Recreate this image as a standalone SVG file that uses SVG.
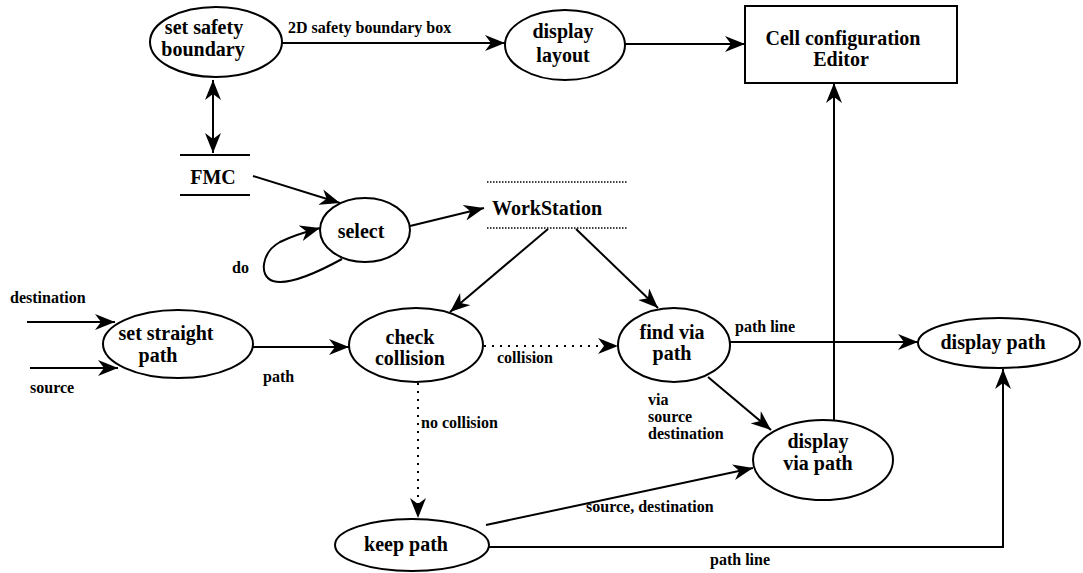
<svg xmlns="http://www.w3.org/2000/svg" width="1083" height="573" viewBox="0 0 1083 573">
  <style>
    .node { fill: #fff; stroke: #000; stroke-width: 2; }
    .t { font-family: "Liberation Serif", "Times New Roman", serif; font-weight: bold; font-size: 20px; fill: #000; text-anchor: middle; }
    .lbl { font-family: "Liberation Serif", "Times New Roman", serif; font-weight: bold; font-size: 16px; fill: #000; }
    .edge { fill: none; stroke: #000; stroke-width: 2; marker-end: url(#arrow); }
    .dot { stroke-dasharray: 2 6; }
    .store { stroke: #000; stroke-width: 2; }
    .wsline { stroke: #000; stroke-width: 1.5; stroke-dasharray: 1.5 1.5; }
  </style>
  <defs>
    <marker id="arrow" viewBox="0 0 20 16" refX="20" refY="8" markerWidth="20" markerHeight="16" markerUnits="userSpaceOnUse" orient="auto-start-reverse">
      <path d="M0,0 L20,8 L0,16 L6,8 z" fill="#000"/>
    </marker>
  </defs>
  <rect width="1083" height="573" fill="#fff"/>

  <!-- data flows between the processes -->
  <g id="connectors">
    <line class="edge" x1="282" y1="43" x2="505" y2="43"/>
    <text class="lbl" x="288" y="33">2D safety boundary box</text>
    <line class="edge" x1="625" y1="44" x2="745" y2="44"/>
    <line class="edge" x1="213" y1="80" x2="213" y2="153" style="marker-start:url(#arrow)"/>
    <line class="edge" x1="253" y1="176" x2="340" y2="203"/>
    <path class="edge" d="M342,259 C322,270 290,286 273,281 C258,276 262,252 280,242 C292,236 305,232 320,228"/>
    <text class="lbl" x="232" y="273">do</text>
    <line class="edge" x1="410" y1="226" x2="484" y2="208"/>
    <line class="edge" x1="548" y1="229" x2="450" y2="312"/>
    <line class="edge" x1="576" y1="229" x2="658" y2="308"/>
    <line class="edge" x1="27" y1="322" x2="115" y2="322"/>
    <text class="lbl" x="10" y="303">destination</text>
    <line class="edge" x1="30" y1="368" x2="118" y2="368"/>
    <text class="lbl" x="30" y="393">source</text>
    <line class="edge" x1="252" y1="347" x2="349" y2="347"/>
    <text class="lbl" x="263" y="382">path</text>
    <line class="edge dot" x1="484" y1="346" x2="618" y2="346"/>
    <text class="lbl" x="497" y="363">collision</text>
    <line class="edge dot" x1="418" y1="383" x2="418" y2="518"/>
    <text class="lbl" x="421" y="428">no collision</text>
    <line class="edge" x1="730" y1="342" x2="918" y2="342"/>
    <text class="lbl" x="735" y="332">path line</text>
    <line class="edge" x1="708" y1="377" x2="771" y2="430"/>
    <text class="lbl" x="648" y="405">via</text>
    <text class="lbl" x="648" y="422">source</text>
    <text class="lbl" x="648" y="439">destination</text>
    <line class="edge" x1="834" y1="420" x2="834" y2="83"/>
    <line class="edge" x1="486" y1="525" x2="753" y2="468"/>
    <text class="lbl" x="586" y="512">source, destination</text>
    <polyline class="edge" points="489,547 1003,547 1003,369"/>
    <text class="lbl" x="710" y="565">path line</text>
  </g>

  <g id="set-safety-boundary">
    <ellipse class="node" cx="216" cy="42" rx="66" ry="35"/>
    <text class="t" x="204" y="34">set safety</text>
    <text class="t" x="203" y="56">boundary</text>
  </g>
  <g id="display-layout">
    <ellipse class="node" cx="565" cy="45" rx="60" ry="35"/>
    <text class="t" x="563" y="38">display</text>
    <text class="t" x="563" y="62">layout</text>
  </g>
  <g id="cell-configuration-editor">
    <rect class="node" x="745" y="6" width="212" height="77"/>
    <text class="t" x="843" y="45">Cell configuration</text>
    <text class="t" x="841" y="66">Editor</text>
  </g>
  <g id="fmc">
    <line class="store" x1="180" y1="155" x2="250" y2="155"/>
    <line class="store" x1="180" y1="195" x2="250" y2="195"/>
    <text class="t" x="213" y="184">FMC</text>
  </g>
  <g id="select">
    <ellipse class="node" cx="365" cy="230" rx="45" ry="32"/>
    <text class="t" x="361" y="238">select</text>
  </g>
  <g id="workstation">
    <line class="wsline" x1="487" y1="182" x2="627" y2="182"/>
    <line class="wsline" x1="487" y1="228" x2="627" y2="228"/>
    <text class="t" x="547" y="215">WorkStation</text>
  </g>
  <g id="set-straight-path">
    <ellipse class="node" cx="178" cy="344" rx="75" ry="34"/>
    <text class="t" x="166" y="340">set straight</text>
    <text class="t" x="158" y="362">path</text>
  </g>
  <g id="check-collision">
    <ellipse class="node" cx="416" cy="345" rx="67" ry="37"/>
    <text class="t" x="410" y="344">check</text>
    <text class="t" x="410" y="365">collision</text>
  </g>
  <g id="find-via-path">
    <ellipse class="node" cx="674" cy="345" rx="56" ry="37"/>
    <text class="t" x="672" y="339">find via</text>
    <text class="t" x="672" y="360">path</text>
  </g>
  <g id="display-path">
    <ellipse class="node" cx="999" cy="343" rx="81" ry="25"/>
    <text class="t" x="993" y="349">display path</text>
  </g>
  <g id="display-via-path">
    <ellipse class="node" cx="823" cy="460" rx="70" ry="40"/>
    <text class="t" x="818" y="448">display</text>
    <text class="t" x="818" y="470">via path</text>
  </g>
  <g id="keep-path">
    <ellipse class="node" cx="412" cy="545" rx="77" ry="26"/>
    <text class="t" x="406" y="551">keep path</text>
  </g>
</svg>
